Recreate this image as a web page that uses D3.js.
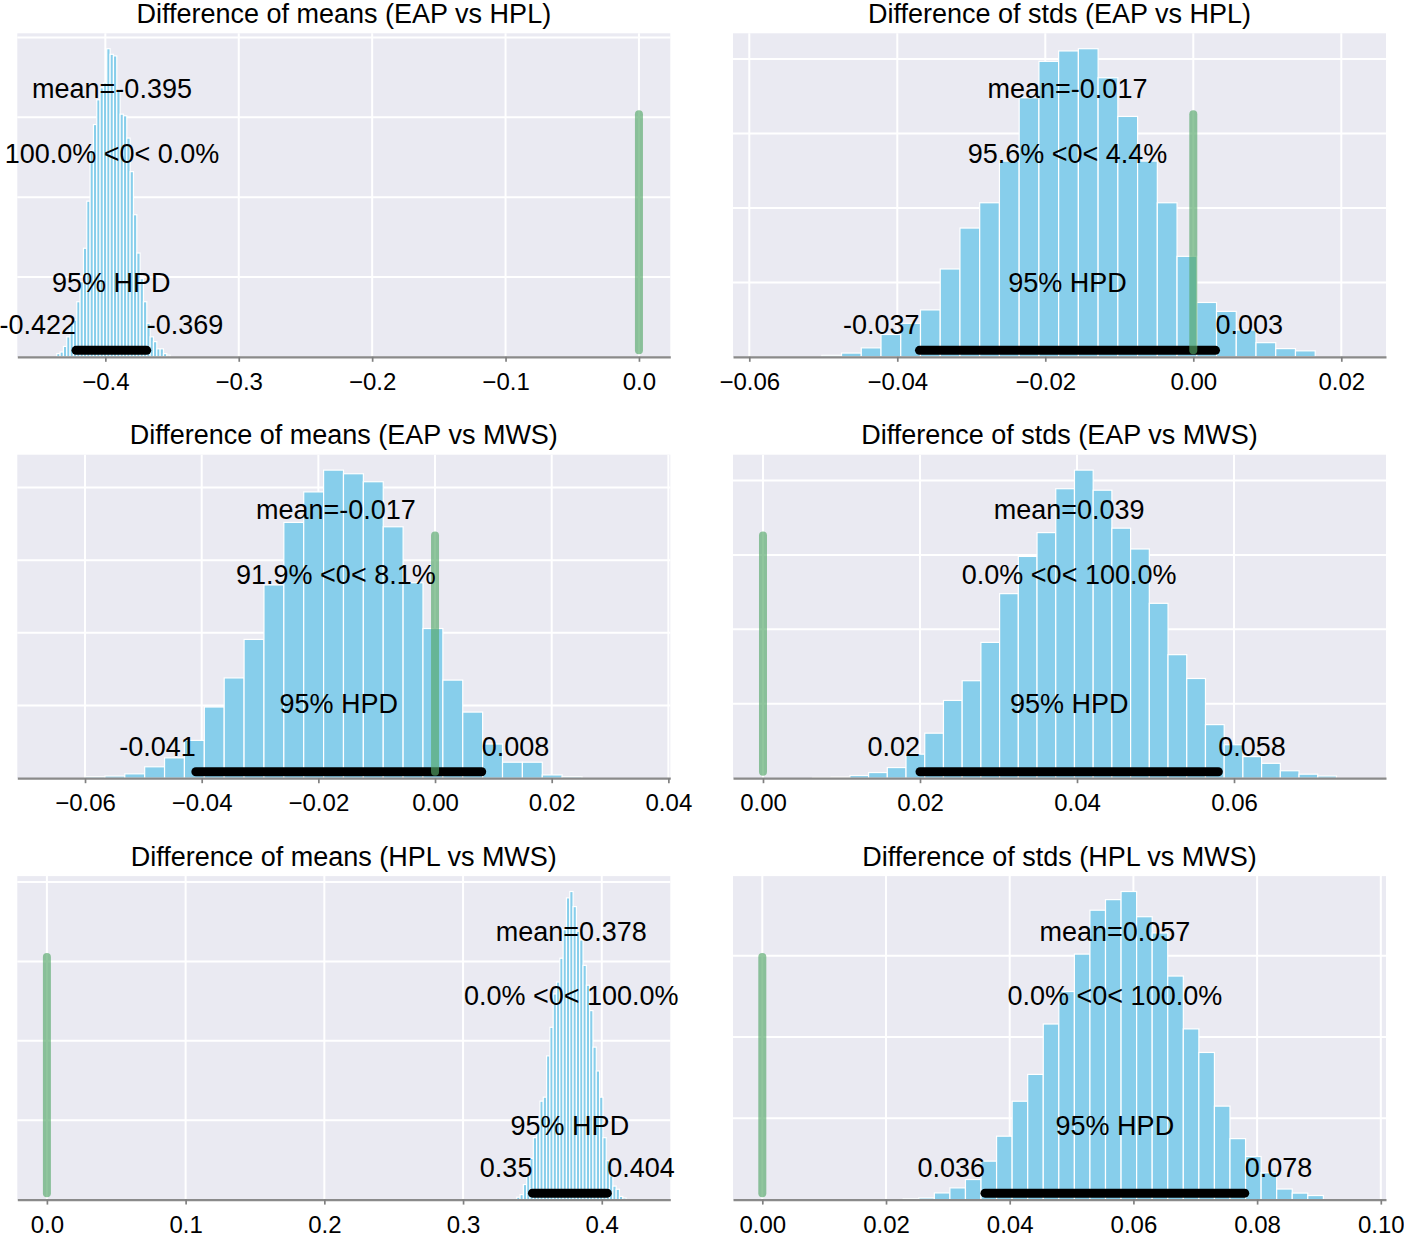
<!DOCTYPE html>
<html>
<head>
<meta charset="utf-8">
<script src="https://cdnjs.cloudflare.com/ajax/libs/d3/7.8.5/d3.min.js"></script>
<style>
  body { margin: 0; background: #fff; }
  svg { display: block; font-family: "Liberation Sans", Arial, sans-serif; }
</style>
</head>
<body>
<svg id="chart" width="1404" height="1234"></svg>
<script>
// Panel titles, row by row
const panelTitles = [
  'Difference of means (EAP vs HPL)', 'Difference of stds (EAP vs HPL)',
  'Difference of means (EAP vs MWS)', 'Difference of stds (EAP vs MWS)',
  'Difference of means (HPL vs MWS)', 'Difference of stds (HPL vs MWS)'
];

// Histogram heights (in units of the y grid step)
const histMeansEapHpl = [0.04, 0.06, 0.13, 0.25, 0.40, 0.46, 0.69, 0.94, 1.36, 1.95, 2.58, 2.91, 3.22, 3.37, 3.43, 3.86, 3.79,
  3.77, 3.35, 3.04, 3.02, 2.74, 2.32, 1.78, 1.30, 0.98, 0.69, 0.42, 0.25, 0.19, 0.10, 0.10, 0.04, 0.02];
const histStdsEapHpl = [0.02, 0.05, 0.12, 0.30, 0.45, 0.63, 1.18, 1.73, 2.07, 2.63, 3.48, 3.97, 4.11, 4.14, 3.75, 3.23,
  2.63, 2.07, 1.35, 0.73, 0.61, 0.36, 0.19, 0.11, 0.08];
const histMeansEapMws = [0.02, 0.03, 0.06, 0.157, 0.28, 0.52, 0.98, 1.38, 1.91, 2.66, 3.52, 3.94, 4.24, 4.19, 4.08, 3.46,
  2.69, 2.06, 1.35, 0.91, 0.47, 0.22, 0.22, 0.045, 0.02];
const histStdsEapMws = [0.01, 0.015, 0.036, 0.076, 0.143, 0.323, 0.605, 1.045, 1.31, 1.825, 2.48, 2.98, 3.30, 3.89, 4.14,
  3.87, 3.36, 3.08, 2.35, 1.66, 1.34, 0.72, 0.45, 0.29, 0.20, 0.10, 0.054, 0.03];
const histMeansHplMws = [0.03, 0.063, 0.19, 0.30, 0.52, 0.78, 0.95, 1.24, 1.29, 1.81, 2.17, 2.59, 2.74, 3.04, 3.40, 3.80,
  3.88, 3.69, 3.38, 3.27, 2.95, 2.70, 2.38, 1.92, 1.62, 1.29, 0.78, 0.49, 0.30, 0.17, 0.13, 0.04, 0.02];
const histStdsHplMws = [0.01, 0.02, 0.082, 0.144, 0.247, 0.473, 0.78, 1.21, 1.54, 2.16, 2.56, 3.02, 3.56, 3.69, 3.79, 3.48,
  3.28, 2.75, 2.10, 1.81, 1.15, 0.75, 0.53, 0.33, 0.13, 0.08, 0.05];

// Left edge of the first bin and bin width for each panel
const binStart = [-0.43643, -0.0502, -0.06, 0.0063, 0.3387, 0.02278];
const binWidth = [0.0025, 0.002667, 0.003408, 0.002384, 0.002389, 0.002516];

// Posterior summaries
const meanValues = [-0.395, -0.017, -0.017, 0.039, 0.378, 0.057];
const hpdLow = [-0.422, -0.037, -0.041, 0.02, 0.35, 0.036];
const hpdHigh = [-0.369, 0.003, 0.008, 0.058, 0.404, 0.078];
const pctBelow = [100.0, 95.6, 91.9, 0.0, 0.0, 0.0];
const pctAbove = [0.0, 4.4, 8.1, 100.0, 100.0, 100.0];
const refValue = 0;

// Tick labels
const ticksMeansEapHpl = [-0.4, -0.3, -0.2, -0.1, 0.0];
const ticksStdsEapHpl = [-0.06, -0.04, -0.02, 0.00, 0.02];
const ticksMeansEapMws = [-0.06, -0.04, -0.02, 0.00, 0.02, 0.04];
const ticksStdsEapMws = [0.00, 0.02, 0.04, 0.06];
const ticksMeansHplMws = [0.0, 0.1, 0.2, 0.3, 0.4];
const ticksStdsHplMws = [0.00, 0.02, 0.04, 0.06, 0.08, 0.10];
const tickDecimals = [1, 2, 2, 2, 1, 2];
const yGrid = [1, 2, 3, 4];

// Layout
const colLeft = [17.3, 733];
const rowTop = [33.3, 454.7, 876.1];
const axesW = 653;
const axesH = 323.5;
const xDomains = [
  [-0.466, 0.0235], [-0.0622, 0.02604],
  [-0.07161, 0.04033], [-0.00382, 0.07936],
  [-0.02134, 0.4494], [-0.00474, 0.10084]
];

const hists = [histMeansEapHpl, histStdsEapHpl, histMeansEapMws, histStdsEapMws, histMeansHplMws, histStdsHplMws];
const tickSets = [ticksMeansEapHpl, ticksStdsEapHpl, ticksMeansEapMws, ticksStdsEapMws, ticksMeansHplMws, ticksStdsHplMws];

const svg = d3.select('#chart');

hists.forEach((counts, i) => {
  const col = i % 2;
  const row = Math.floor(i / 2);
  const g = svg.append('g')
    .attr('transform', `translate(${colLeft[col]}, ${rowTop[row]})`);

  const x = d3.scaleLinear().domain(xDomains[i]).range([0, axesW]);
  const yTop = d3.max(counts) * 1.05;
  const y = d3.scaleLinear().domain([0, yTop]).range([axesH, 0]);

  // Background
  g.append('rect')
    .attr('width', axesW)
    .attr('height', axesH)
    .attr('fill', '#EAEAF2');

  // Grid
  g.selectAll('.vgrid')
    .data(tickSets[i])
    .enter().append('line')
    .attr('x1', d => x(d)).attr('x2', d => x(d))
    .attr('y1', 0).attr('y2', axesH)
    .attr('stroke', '#fff')
    .attr('stroke-width', 2);

  g.selectAll('.hgrid')
    .data(yGrid.filter(v => v < yTop))
    .enter().append('line')
    .attr('x1', 0).attr('x2', axesW)
    .attr('y1', d => y(d)).attr('y2', d => y(d))
    .attr('stroke', '#fff')
    .attr('stroke-width', 2);

  // Histogram bars
  g.selectAll('.bar')
    .data(counts)
    .enter().append('rect')
    .attr('x', (d, k) => x(binStart[i] + k * binWidth[i]))
    .attr('y', d => y(d))
    .attr('width', (d, k) => x(binStart[i] + (k + 1) * binWidth[i]) - x(binStart[i] + k * binWidth[i]))
    .attr('height', d => axesH - y(d))
    .attr('fill', '#87CEEB')
    .attr('stroke', '#fff')
    .attr('stroke-width', 1.2);

  // HPD bar
  g.append('line')
    .attr('x1', x(hpdLow[i])).attr('x2', x(hpdHigh[i]))
    .attr('y1', y(yTop * 0.02)).attr('y2', y(yTop * 0.02))
    .attr('stroke', '#000')
    .attr('stroke-width', 9)
    .attr('stroke-linecap', 'round');

  // Reference line
  g.append('line')
    .attr('x1', x(refValue)).attr('x2', x(refValue))
    .attr('y1', y(yTop * 0.02)).attr('y2', y(yTop * 0.75))
    .attr('stroke', '#55A868')
    .attr('stroke-opacity', 0.65)
    .attr('stroke-width', 8)
    .attr('stroke-linecap', 'round');

  // Bottom axis
  const fmt = d3.format(`.${tickDecimals[i]}f`);
  const axis = g.append('g')
    .attr('transform', `translate(0, ${axesH})`)
    .call(d3.axisBottom(x).tickValues(tickSets[i]).tickFormat(fmt).tickSize(5).tickSizeOuter(0).tickPadding(11));
  axis.select('.domain').attr('stroke', '#8a8a8a').attr('stroke-width', 2.2);
  axis.selectAll('.tick line').attr('stroke', '#808080').attr('stroke-width', 1.7);
  axis.selectAll('.tick text')
    .attr('fill', '#000')
    .style('font-size', '24px')
    .style('font-family', '"Liberation Sans", Arial, sans-serif');

  // Annotations
  const txt = (xv, yv, s, anchor) => g.append('text')
    .attr('x', x(xv))
    .attr('y', y(yv))
    .attr('text-anchor', anchor)
    .style('font-size', '27px')
    .attr('fill', '#000')
    .text(s);

  txt(meanValues[i], yTop * 0.8, `mean=${meanValues[i]}`, 'middle');
  txt(meanValues[i], yTop * 0.6, `${pctBelow[i].toFixed(1)}% <0< ${pctAbove[i].toFixed(1)}%`, 'middle');
  txt((hpdLow[i] + hpdHigh[i]) / 2, yTop * 0.2, '95% HPD', 'middle');
  txt(hpdLow[i], yTop * 0.07, String(hpdLow[i]), 'end');
  txt(hpdHigh[i], yTop * 0.07, String(hpdHigh[i]), 'start');

  // Title
  g.append('text')
    .attr('x', axesW / 2)
    .attr('y', -10.5)
    .attr('text-anchor', 'middle')
    .style('font-size', '27px')
    .attr('fill', '#000')
    .text(panelTitles[i]);
});
</script>
</body>
</html>
